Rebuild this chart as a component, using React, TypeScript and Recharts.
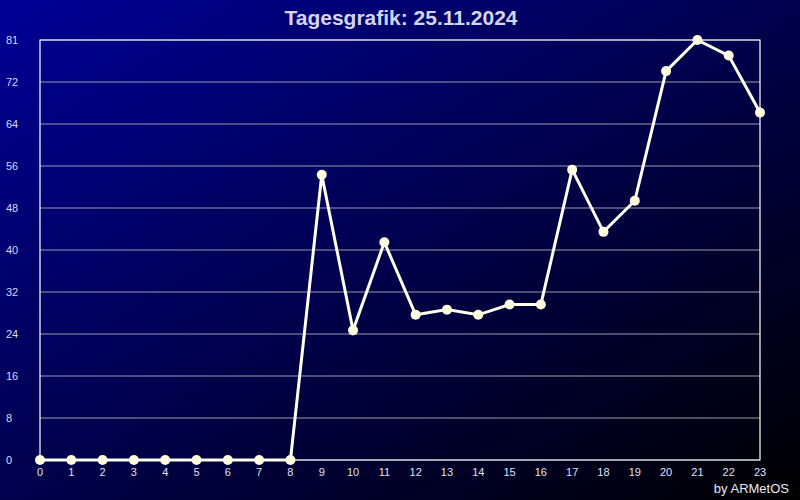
import { CartesianGrid, Line, LineChart, ReferenceArea, XAxis, YAxis } from 'recharts';

const hours = [0, 1, 2, 3, 4, 5, 6, 7, 8, 9, 10, 11, 12, 13, 14, 15, 16, 17, 18, 19, 20, 21, 22, 23];
const values = [0, 0, 0, 0, 0, 0, 0, 0, 0, 55, 25, 42, 28, 29, 28, 30, 30, 56, 44, 50, 75, 81, 78, 67];
// grid is ten equal steps of the 0..81 range, labels cut to whole numbers
const yTicks = [0, 8.1, 16.2, 24.3, 32.4, 40.5, 48.6, 56.7, 64.8, 72.9, 81];
const yTickLabels = ['0', '8', '16', '24', '32', '40', '48', '56', '64', '72', '81'];

const data = hours.map((h, i) => ({ hour: h, value: values[i] }));

const font = '"Liberation Sans", Arial, sans-serif';

function YTick({ y, payload, index }: any) {
  return (
    <text x={6} y={y + 4} fill="#d8d8f0" fontSize={11} fontFamily={font} textAnchor="start">
      {yTickLabels[index] ?? payload.value}
    </text>
  );
}

function XTick({ x, payload }: any) {
  return (
    <text x={x} y={476} fill="#e0e0f0" fontSize={11} fontFamily={font} textAnchor="middle">
      {payload.value}
    </text>
  );
}

export default function App() {
  return (
    <div
      style={{
        position: 'fixed',
        top: 0,
        left: 0,
        width: 800,
        height: 500,
        background: 'linear-gradient(to bottom right, #000096 0%, #000045 55%, #000000 100%)',
      }}
    >
      <LineChart width={800} height={500} data={data} margin={{ top: 40, right: 40, bottom: 0, left: 0 }}>
        <text x={401} y={25} textAnchor="middle" fill="#d4d4ec" fontSize={21} fontWeight="bold" fontFamily={font}>
          Tagesgrafik: 25.11.2024
        </text>
        <CartesianGrid vertical={false} stroke="#9a9ab0" strokeWidth={1} />
        <XAxis
          dataKey="hour"
          type="number"
          domain={[0, 23]}
          ticks={hours}
          interval={0}
          axisLine={false}
          tickLine={false}
          tick={<XTick />}
          height={40}
        />
        <YAxis
          type="number"
          domain={[0, 81]}
          ticks={yTicks}
          interval={0}
          axisLine={false}
          tickLine={false}
          tick={<YTick />}
          width={40}
        />
        <ReferenceArea
          x1={0}
          x2={23}
          y1={0}
          y2={81}
          fill="none"
          fillOpacity={0}
          stroke="#ffffff"
          strokeOpacity={1}
          strokeWidth={1.2}
        />
        <Line
          type="linear"
          dataKey="value"
          stroke="#fffff0"
          strokeWidth={3}
          dot={{ r: 5, fill: '#fffde0', stroke: '#fffde0', strokeWidth: 0 }}
          isAnimationActive={false}
        />
        <text x={789} y={493} textAnchor="end" fill="#e8e8f0" fontSize={13} fontFamily={font}>
          by ARMetOS
        </text>
      </LineChart>
    </div>
  );
}
